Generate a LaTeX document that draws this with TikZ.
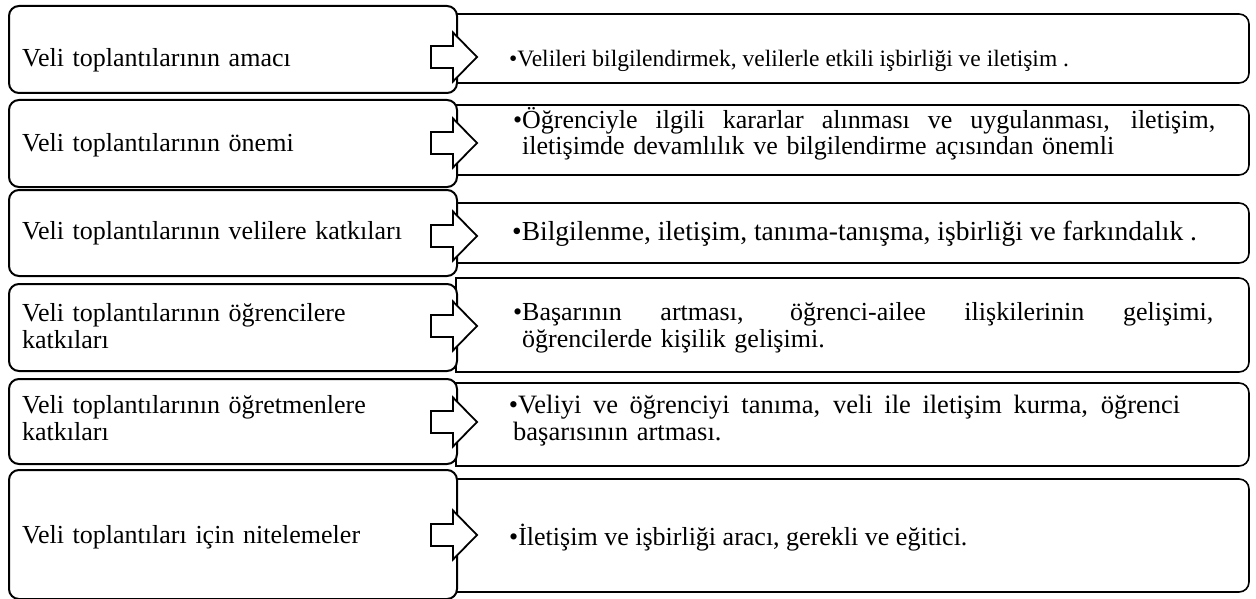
\documentclass[tikz,border=0pt]{standalone}
\usepackage{fontspec}
\setmainfont{Liberation Serif}
\newcommand\fullline[2]{\hbox to #1{\spaceskip=.25em plus 1fil\relax #2}}
\begin{document}
\begin{tikzpicture}[x=1pt,y=-1pt,
  lbox/.style={draw=black, line width=2pt, rounded corners=10pt, fill=white, inner sep=0pt, anchor=north west, minimum width=448pt},
  rline/.style={draw=black, line width=1.6pt},
  barrow/.style={draw=black, fill=white, line width=1.8pt, line join=miter},
  ltext/.style={anchor=base west, inner sep=0pt, font=\fontsize{26}{27}\selectfont, text width=425pt, align=left},
  rtext/.style={anchor=base west, inner sep=0pt},
  rsize/.style={font=\fontsize{#1}{27}\selectfont},
]
\useasboundingbox (0,0) rectangle (1256,599);
% right boxes
\foreach \rt/\rb [count=\i] in {14/83,105/175,203/263,278/372,383/466,479/592}{
  \draw[rline, rounded corners=10pt] (456,\rt) -- (1249,\rt) -- (1249,\rb) -- (456,\rb);
  \draw[rline, line cap=rect] (456,\rt) -- (456,\rb);
  \coordinate (R\i) at (456,{(\rt+\rb)/2});
}
% left boxes
\foreach \lt/\lb [count=\i] in {5/92,99/186,189/275,283/370,378/463,469/598}{
  \node[lbox, minimum height={\lb-\lt}] (L\i) at (8,\lt) {};
}
% block arrows
\foreach \c [count=\i] in {57,143,236,326,422,535}{
  \draw[barrow] (431,\c-11) -- (453,\c-11) -- (453,\c-24.5) -- (477,\c) -- (453,\c+24.5) -- (453,\c+11) -- (431,\c+11) -- cycle;
}
% left texts
\node[ltext] (t1) at (22,67) {Veli toplantılarının amacı};
\node[ltext] (t2) at (22,152) {Veli toplantılarının önemi};
\node[ltext] (t3) at (22,239) {Veli toplantılarının velilere katkıları};
\node[ltext] (t4) at (22,321) {Veli toplantılarının öğrencilere\\katkıları};
\node[ltext] (t5) at (22,413) {Veli toplantılarının öğretmenlere\\katkıları};
\node[ltext] (t6) at (22,543) {Veli toplantıları için nitelemeler};
% right texts
\node[rtext, rsize=23.5] (d1) at (509,67) {•Velileri bilgilendirmek, velilerle etkili işbirliği ve iletişim .};
\node[rtext, rsize=26, text width=693pt, align=left] (d2) at (522,129) {\llap{•}\fullline{693pt}{Öğrenciyle ilgili kararlar alınması ve uygulanması, iletişim,}\\[-1pt]iletişimde devamlılık ve bilgilendirme açısından önemli};
\node[rtext, rsize=27.5] (d3) at (512,240) {•Bilgilenme, iletişim, tanıma-tanışma, işbirliği ve farkındalık .};
\node[rtext, rsize=26, text width=691pt, align=left] (d4) at (522,320) {\llap{•}\fullline{691pt}{Başarının artması, öğrenci-ailee ilişkilerinin gelişimi,}\\öğrencilerde kişilik gelişimi.};
\node[rtext, rsize=26.5, text width=663pt, align=left] (d5) at (518,413) {\llap{•}\fullline{662pt}{Veliyi ve öğrenciyi tanıma, veli ile iletişim kurma, öğrenci}\\\hspace*{-5pt}başarısının artması.};
\node[rtext, rsize=26] (d6) at (509,545) {•İletişim ve işbirliği aracı, gerekli ve eğitici.};
\end{tikzpicture}
\end{document}
